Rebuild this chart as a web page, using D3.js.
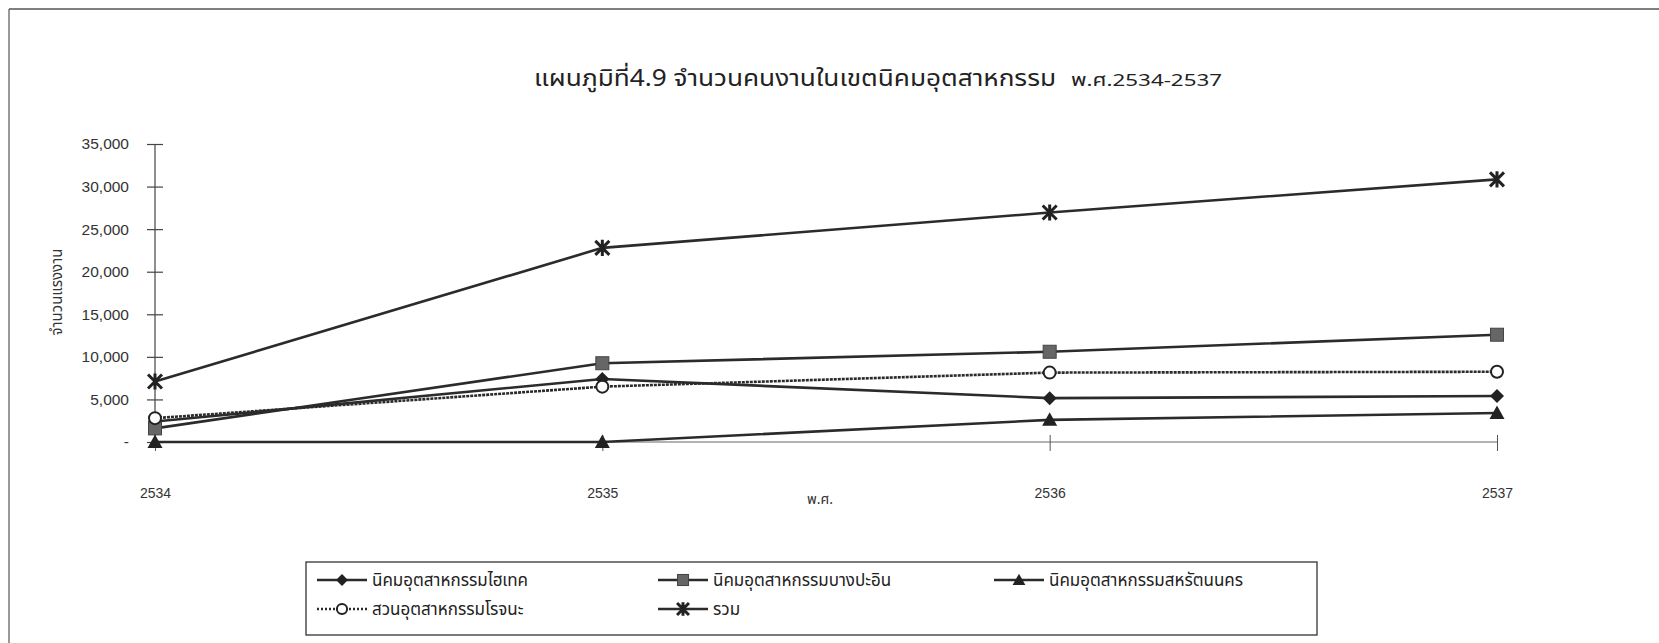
<!DOCTYPE html>
<html>
<head>
<meta charset="utf-8">
<script src="https://cdn.jsdelivr.net/npm/d3@7"></script>
<style>
  html, body { margin: 0; padding: 0; background: #fff; }
  svg { display: block; }
  .thai { font-family: "Noto Sans Thai", "Noto Sans Thai UI", "Loma", "Garuda", "Noto Sans", sans-serif; }
  .num { font-family: "Liberation Sans", Arial, sans-serif; }
</style>
</head>
<body>
<svg id="chart" width="1659" height="643"></svg>
<script>
// ---- data ----
const years = ["2534", "2535", "2536", "2537"];
const seriesNames = [
  "นิคมอุตสาหกรรมไฮเทค",
  "นิคมอุตสาหกรรมบางปะอิน",
  "นิคมอุตสาหกรรมสหรัตนนคร",
  "สวนอุตสาหกรรมโรจนะ",
  "รวม"
];
const hitech    = [2400, 7400, 5150, 5400];
const bangpain  = [1600, 9250, 10600, 12600];
const saharat   = [0, 0, 2600, 3400];
const rojana    = [2800, 6500, 8150, 8250];
const total     = [7100, 22800, 26950, 30850];
const yTicks = [0, 5000, 10000, 15000, 20000, 25000, 30000, 35000];
const titleMain = "แผนภูมิที่4.9 จำนวนคนงานในเขตนิคมอุตสาหกรรม";
const titleSub = "พ.ศ.2534-2537";
const xTitle = "พ.ศ.";
const yTitle = "จำนวนแรงงาน";

const seriesValues = [hitech, bangpain, saharat, rojana, total];
const markers = ["diamond", "square", "triangle", "circle", "star"];

const svg = d3.select("#chart");
const ink = "#2b2b2b";

// frame
svg.append("line").attr("x1", 9).attr("y1", 9).attr("x2", 1659).attr("y2", 9)
  .attr("stroke", "#555").attr("stroke-width", 1.5);
svg.append("line").attr("x1", 9).attr("y1", 9).attr("x2", 9).attr("y2", 643)
  .attr("stroke", "#555").attr("stroke-width", 1.2);

// scales
const x = d3.scalePoint().domain(years).range([155, 1497]);
const y = d3.scaleLinear().domain([0, 35000]).range([442, 144]);

// title
svg.append("text").attr("class", "thai").attr("x", 534).attr("y", 86)
  .attr("font-size", 23).attr("fill", "#222")
  .attr("textLength", 522).attr("lengthAdjust", "spacingAndGlyphs").text(titleMain);
svg.append("text").attr("class", "thai").attr("x", 1071).attr("y", 86)
  .attr("font-size", 17).attr("fill", "#222")
  .attr("textLength", 151).attr("lengthAdjust", "spacingAndGlyphs").text(titleSub);

// y axis
const yAxis = d3.axisLeft(y).tickValues(yTicks)
  .tickFormat(d => d === 0 ? "-" : d3.format(",")(d))
  .tickSize(8).tickPadding(18);
const gy = svg.append("g").attr("transform", "translate(155,0)").call(yAxis);
gy.select(".domain").attr("stroke", "#444").attr("stroke-width", 1.2).attr("d", `M0,${y(0)}V${y(35000)}`);
gy.selectAll(".tick line").attr("x1", -8).attr("x2", 8).attr("stroke", "#444").attr("stroke-width", 1.2);
gy.selectAll(".tick text").attr("class", "num").attr("font-size", 15.5).attr("fill", "#333");

// x axis
const xAxis = d3.axisBottom(x).tickSize(8).tickPadding(38);
const gx = svg.append("g").attr("transform", `translate(0,${y(0)})`).call(xAxis);
gx.select(".domain").attr("stroke", "#666").attr("stroke-width", 1).attr("d", `M${x("2534")},0H${x("2537")}`);
gx.selectAll(".tick line").attr("y1", -7).attr("y2", 9).attr("stroke", "#555");
gx.selectAll(".tick text").attr("class", "num").attr("font-size", 14).attr("fill", "#333");

// axis titles
svg.append("text").attr("class", "thai").attr("x", 820).attr("y", 504)
  .attr("text-anchor", "middle").attr("font-size", 14).attr("fill", "#333").text(xTitle);
svg.append("text").attr("class", "thai").attr("transform", "translate(62,292) rotate(-90)")
  .attr("text-anchor", "middle").attr("font-size", 15).attr("fill", "#333").text(yTitle);

// marker drawing
function drawMarker(g, type, cx, cy, s) {
  s = s || 1;
  if (type === "diamond") {
    const r = 7 * s;
    g.append("path").attr("d", `M${cx},${cy - r}L${cx + r},${cy}L${cx},${cy + r}L${cx - r},${cy}Z`)
      .attr("fill", "#222");
  } else if (type === "square") {
    const r = 6.5 * s;
    g.append("rect").attr("x", cx - r).attr("y", cy - r).attr("width", 2 * r).attr("height", 2 * r)
      .attr("fill", "#666").attr("stroke", "#444").attr("stroke-width", 1);
  } else if (type === "triangle") {
    const r = 7.5 * s;
    g.append("path").attr("d", `M${cx},${cy - r}L${cx + r},${cy + r * 0.8}L${cx - r},${cy + r * 0.8}Z`)
      .attr("fill", "#222");
  } else if (type === "circle") {
    g.append("circle").attr("cx", cx).attr("cy", cy).attr("r", 6 * s)
      .attr("fill", "#fff").attr("stroke", "#222").attr("stroke-width", 2);
  } else if (type === "star") {
    const r = 7 * s;
    const p = `M${cx - r},${cy - r}L${cx + r},${cy + r}M${cx + r},${cy - r}L${cx - r},${cy + r}M${cx},${cy - r * 1.15}V${cy + r * 1.15}`;
    g.append("path").attr("d", p).attr("stroke", "#222").attr("stroke-width", 3).attr("fill", "none");
  }
}

const line = d3.line().x((d, i) => x(years[i])).y(d => y(d));
const plot = svg.append("g");
seriesValues.forEach((vals, k) => {
  plot.append("path").datum(vals).attr("d", line).attr("fill", "none")
    .attr("stroke", ink).attr("stroke-width", 2.6)
    .attr("stroke-dasharray", markers[k] === "circle" ? "3,1" : null);
});
seriesValues.forEach((vals, k) => {
  vals.forEach((v, i) => drawMarker(plot, markers[k], x(years[i]), y(v)));
});

// legend
svg.append("rect").attr("x", 306).attr("y", 562).attr("width", 1011).attr("height", 73)
  .attr("fill", "none").attr("stroke", "#333").attr("stroke-width", 1.3);
const legendPos = [
  [317, 580], [658, 580], [994, 580],
  [317, 609], [658, 609]
];
seriesNames.forEach((name, k) => {
  const [lx, ly] = legendPos[k];
  const g = svg.append("g");
  g.append("line").attr("x1", lx).attr("x2", lx + 50).attr("y1", ly).attr("y2", ly)
    .attr("stroke", ink).attr("stroke-width", 2.4)
    .attr("stroke-dasharray", markers[k] === "circle" ? "2,2" : null);
  drawMarker(g, markers[k], lx + 25, ly, 0.85);
  g.append("text").attr("class", "thai").attr("x", lx + 55).attr("y", ly + 6)
    .attr("font-size", 17).attr("fill", "#222").text(name);
});
</script>
</body>
</html>
